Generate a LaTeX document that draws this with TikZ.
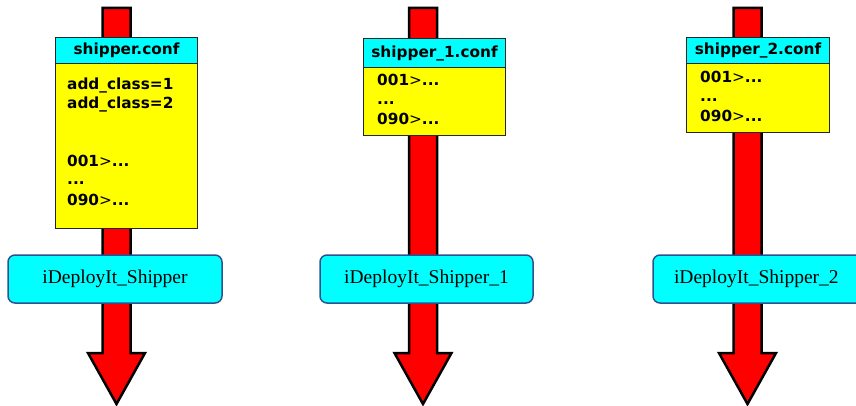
\documentclass[tikz,border=0pt]{standalone}
\usepackage{fontspec}
\setmainfont{Liberation Serif}
\newfontfamily\conffont{DejaVu Sans}
\begin{document}
\begin{tikzpicture}[x=1pt,y=-1pt]
\definecolor{arrred}{RGB}{255,0,0}
\definecolor{hdrcyan}{RGB}{0,255,255}
\definecolor{boxyellow}{RGB}{255,255,0}
\definecolor{procborder}{RGB}{47,82,143}
\tikzset{
  bigarrow/.style={draw=black,fill=arrred,line width=2.5pt,line join=miter},
  confhdr/.style={draw=black!85,fill=hdrcyan,line width=1pt,inner sep=0pt,anchor=north west},
  confbody/.style={draw=black!85,fill=boxyellow,line width=1pt,inner sep=0pt,anchor=north west},
  hdrtext/.style={font=\conffont\bfseries\fontsize{15.3}{17}\selectfont,inner sep=0pt},
  conftext/.style={font=\conffont\bfseries\fontsize{15.3}{17}\selectfont,inner sep=0pt,anchor=base west},
  procbox/.style={draw=procborder,fill=hdrcyan,line width=1.5pt,rounded corners=7pt,
    minimum height=48pt,inner sep=0pt,font=\fontsize{19.5}{22}\selectfont}
}
\clip (0,0) rectangle (856,406);
\fill[white] (0,0) rectangle (856,406);
% arrows
\foreach \cx in {116.5,423,747.5}{
  \draw[bigarrow] (\cx-14,8) -- (\cx+14,8) -- (\cx+14,353) -- (\cx+28.5,353)
    -- (\cx,404) -- (\cx-28.5,353) -- (\cx-14,353) -- cycle;
}
\newcommand{\gt}{{\mdseries>}}
% conf box 1
\node[confbody,minimum width=142pt,minimum height=165pt] (b1) at (55,63) {};
\node[confhdr,minimum width=142pt,minimum height=26pt] (h1) at (55,37) {};
\node[hdrtext] (h1t) at (h1.center) {shipper.conf};
\node[conftext] (l11) at (67,90) {add\_class=1};
\node[conftext] (l12) at (67,109) {add\_class=2};
\node[conftext] (l13) at (67,167) {001\gt...};
\node[conftext] (l14) at (67,185) {...};
\node[conftext] (l15) at (67,205) {090\gt...};
% conf box 2
\node[confbody,minimum width=142pt,minimum height=68pt] (b2) at (363,67) {};
\node[confhdr,minimum width=142pt,minimum height=29pt] (h2) at (363,38) {};
\node[hdrtext] (h2t) at (h2.center) {shipper\_1.conf};
\node[conftext] (l21) at (377,86) {001\gt...};
\node[conftext] (l22) at (377,105) {...};
\node[conftext] (l23) at (377,125) {090\gt...};
% conf box 3
\node[confbody,minimum width=143pt,minimum height=69pt] (b3) at (686,63) {};
\node[confhdr,minimum width=143pt,minimum height=26pt] (h3) at (686,37) {};
\node[hdrtext] (h3t) at (h3.center) {shipper\_2.conf};
\node[conftext] (l31) at (700,83) {001\gt...};
\node[conftext] (l32) at (700,102) {...};
\node[conftext] (l33) at (700,122) {090\gt...};
% process boxes
\node[procbox,minimum width=214pt] (p1) at (115,279) {iDeployIt\_Shipper};
\node[procbox,minimum width=213pt] (p2) at (426.5,279) {iDeployIt\_Shipper\_1};
\node[procbox,minimum width=211pt,text width=211pt,align=left] (p3) at (758.5,279) {\hspace*{21pt}iDeployIt\_Shipper\_2};
\end{tikzpicture}
\end{document}
